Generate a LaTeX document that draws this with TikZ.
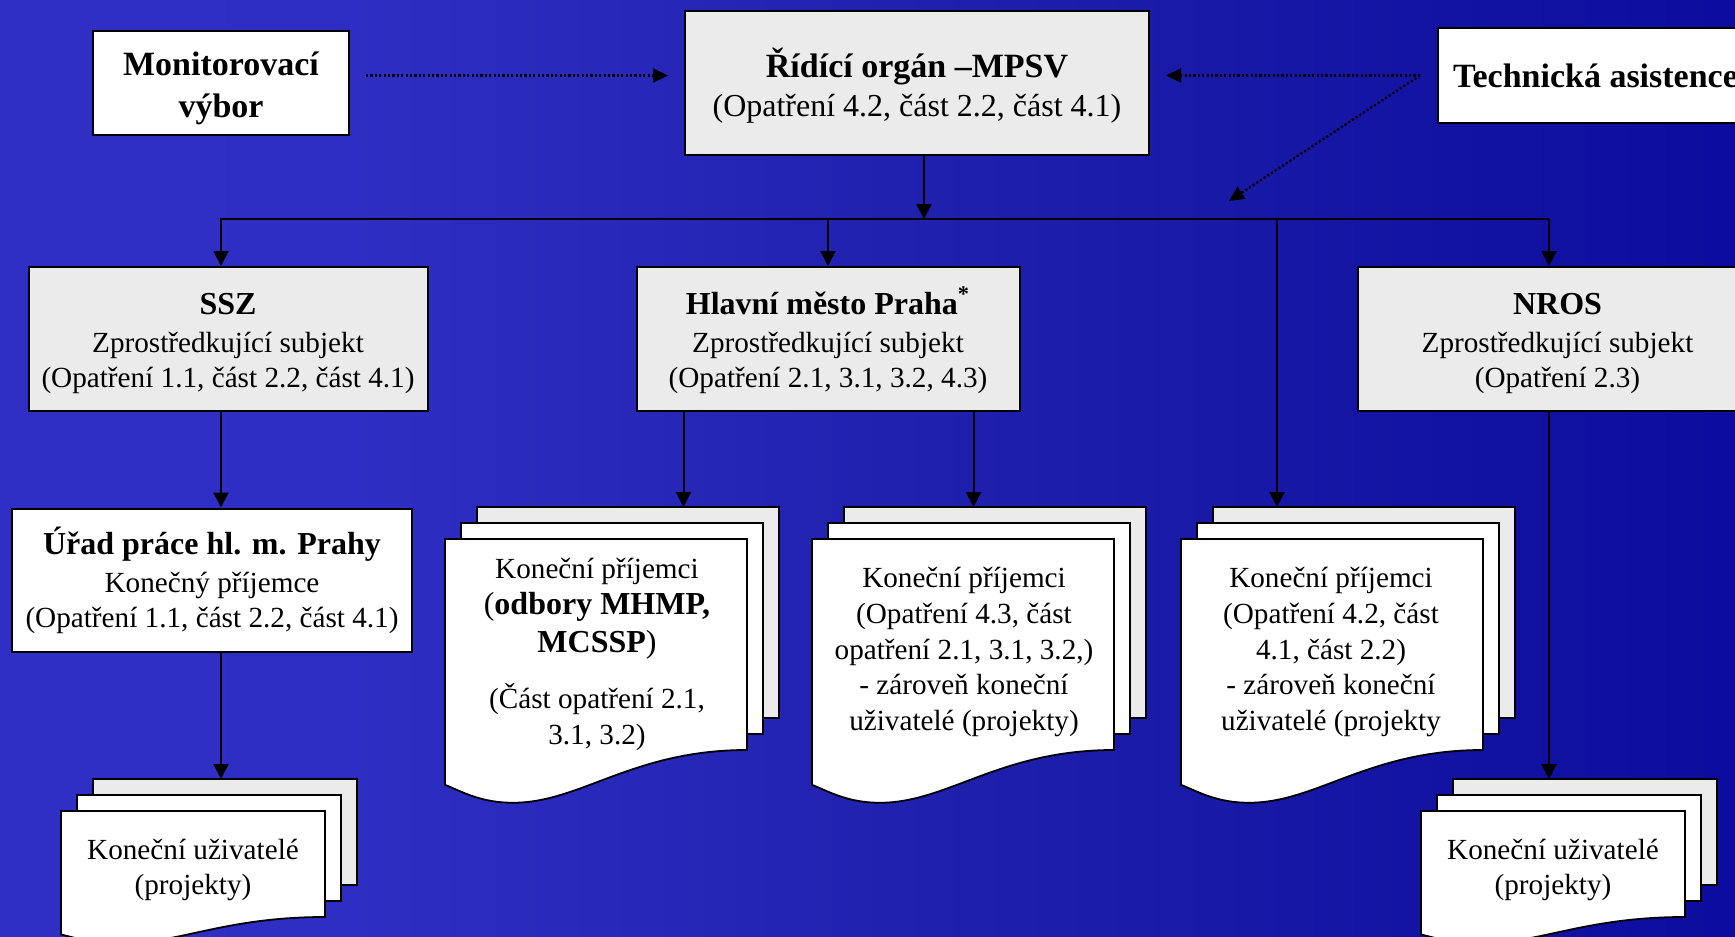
\documentclass[tikz,border=0pt]{standalone}
\usepackage{fontspec}
\setmainfont{Liberation Serif}
\usetikzlibrary{arrows.meta,calc}
\definecolor{bgL}{RGB}{51,51,204}
\definecolor{bgA}{RGB}{46,46,196}
\definecolor{bgM}{RGB}{32,32,174}
\definecolor{bgB}{RGB}{18,18,162}
\definecolor{bgR}{RGB}{0,0,155}
\definecolor{boxgray}{RGB}{235,235,235}
\definecolor{pagegray}{RGB}{235,235,235}
\pgfdeclarehorizontalshading{bgshade}{100bp}{color(0bp)=(bgL); color(35bp)=(bgA);
  color(52bp)=(bgM); color(68bp)=(bgB); color(88bp)=(bgR); color(100bp)=(bgR)}
\newcommand{\topfont}{\fontsize{17}{21}\selectfont\bfseries}
\newcommand{\bodyfont}{\fontsize{14.6}{17.5}\selectfont}
\newcommand{\docfont}{\fontsize{14.6}{17.9}\selectfont}
\newcommand{\titlebf}[1]{{\fontsize{16}{17.5}\selectfont\bfseries #1}}
% stack of three pages, the front one with a wavy bottom
\newcommand{\pagestack}[5]{% name, x, y, width, height
  \foreach \off/\col in {32/pagegray,16/white}
    \draw[page, fill=\col] ({#2+\off},{#3-\off}) rectangle ++(#4,#5);
  \draw[page, fill=white] (#2,#3) -- ({#2+#4},#3) -- ({#2+#4},{#3+#5})
    .. controls ({#2+0.62*#4},{#3+#5}) and ({#2+0.45*#4},{#3+1.25*#5})
    .. ({#2+0.225*#4},{#3+1.25*#5})
    .. controls ({#2+0.12*#4},{#3+1.25*#5}) and ({#2+0.06*#4},{#3+1.2*#5})
    .. (#2,{#3+1.165*#5}) -- cycle;
  \coordinate (#1) at ({#2+32},{#3-32});
}
\tikzset{
  box/.style={draw=black, line width=1pt, align=center, inner sep=0pt},
  graybox/.style={box, fill=boxgray},
  whitebox/.style={box, fill=white},
  page/.style={draw=black, line width=0.9pt},
  txt/.style={align=center, inner sep=0pt},
  doctext/.style={txt, font=\docfont},
  arr/.style={line width=1pt, -{Triangle[length=7.5pt,width=7.5pt]}},
  dotarr/.style={line width=1.1pt, dash pattern=on 1.1pt off 1.1pt,
    -{Triangle[length=7.5pt,width=7pt]}},
}
\begin{document}
\begin{tikzpicture}[x=0.5pt, y=-0.5pt]
\useasboundingbox (0,0) rectangle (1735,937);
\clip (0,0) rectangle (1735,937);
\shade[shading=bgshade] (0,0) rectangle (1735,937);

% top row
\node[whitebox, minimum width=128pt, minimum height=52pt] (monitor) at (221,83) {};
\node[txt, font=\topfont] (monitorT) at (221,88.5) {Monitorovací\\ výbor};
\node[graybox, minimum width=232pt, minimum height=72pt] (ridici) at (917,83) {};
\node[txt, font=\fontsize{16}{19.5}\selectfont] (ridiciT) at (917,86)
  {{\fontsize{17}{19.5}\selectfont\bfseries Řídící orgán –MPSV}\\ (Opatření 4.2, část 2.2, část 4.1)};
\node[whitebox, font=\topfont, anchor=west, inner xsep=7.5pt, minimum height=47.5pt] (tech) at (1437,75.5)
  {Technická asistence};

% intermediate bodies
\node[graybox, minimum width=199.5pt, minimum height=72pt] (ssz) at (228,339) {};
\node[txt, font=\bodyfont] (sszT) at (228,343.4)
  {\titlebf{SSZ}\\[1.5pt] Zprostředkující subjekt\\ (Opatření 1.1, část 2.2, část 4.1)};
\node[graybox, minimum width=191.5pt, minimum height=72pt] (praha) at (828,339) {};
\node[txt, font=\bodyfont] (prahaT) at (828,340)
  {\titlebf{Hlavní město Praha\textsuperscript{*}}\\[1.5pt] Zprostředkující subjekt\\ (Opatření 2.1, 3.1, 3.2, 4.3)};
\node[graybox, minimum width=199.5pt, minimum height=72pt] (nros) at (1557.5,339) {};
\node[txt, font=\bodyfont] (nrosT) at (1557.5,343.4)
  {\titlebf{NROS}\\[1.5pt] Zprostředkující subjekt\\ (Opatření 2.3)};
\node[whitebox, font=\bodyfont, minimum width=200pt, minimum height=71.5pt] (urad) at (212,580)
  {\titlebf{Úřad práce hl. m. Prahy}\\[1.5pt] Konečný příjemce\\ (Opatření 1.1, část 2.2, část 4.1)};

% page stacks
\pagestack{mhmp}{445}{539}{302}{211}
\pagestack{op43}{812}{539}{302}{211}
\pagestack{op42}{1181}{539}{302}{211}
\pagestack{kuL}{61}{811}{264}{106}
\pagestack{kuR}{1421}{811}{264}{106}

\node[doctext] (mhmpT) at (597,654.5)
  {Koneční příjemci\\ {\fontsize{16}{17.9}\selectfont(\textbf{odbory MHMP,}}\\[1pt]
   {\fontsize{16}{17.9}\selectfont\textbf{MCSSP})}\\[10pt] (Část opatření 2.1,\\ 3.1, 3.2)};
\node[doctext] (op43T) at (964,652)
  {Koneční příjemci\\ (Opatření 4.3, část\\ opatření 2.1, 3.1, 3.2,)\\ - zároveň koneční\\ uživatelé (projekty)};
\node[doctext] (op42T) at (1331,652)
  {Koneční příjemci\\ (Opatření 4.2, část\\ 4.1, část 2.2)\\ - zároveň koneční\\ uživatelé (projekty};
\node[doctext] (kuLT) at (193,870) {Koneční uživatelé\\ (projekty)};
\node[doctext] (kuRT) at (1553,870) {Koneční uživatelé\\ (projekty)};

% solid connectors
\coordinate (busL) at (221,219);
\coordinate (busR) at (1549,219);
\coordinate (busT) at (1277,219);
\coordinate (rdrop) at ($(ridici.south)+(3.5pt,0)$);
\coordinate (prL) at ($(praha.south west)+(24pt,0)$);
\coordinate (prR) at ($(praha.south east)+(-23.5pt,0)$);
\draw[arr] (rdrop) -- (rdrop |- busL);
\draw[arr] (busR) -- (busL) -- (busL |- ssz.north);
\draw[arr] (busL -| praha.north) -- (praha.north);
\draw[arr] (busR) -- (busR |- nros.north);
\draw[arr] (busT) -- (busT |- op42);
\draw[arr] (busL |- ssz.south) -- (busL |- urad.north);
\draw[arr] (busL |- urad.south) -- (busL |- kuL);
\draw[arr] (busR |- nros.south) -- (busR |- kuR);
\draw[arr] (prL) -- (prL |- mhmp);
\draw[arr] (prR) -- (prR |- op43);

% dotted connectors
\coordinate (techOut) at ($(tech.west)+(-8.5pt,0)$);
\coordinate (taEnd) at (1229,201);
\draw[dotarr] ($(monitor.east |- tech.west)+(8pt,0)$) -- ($(ridici.west |- tech.west)+(-8pt,0)$);
\draw[dotarr] (techOut) -- ($(ridici.east |- tech.west)+(8pt,0)$);
\draw[dotarr] (techOut) -- (taEnd);
\end{tikzpicture}
\end{document}
